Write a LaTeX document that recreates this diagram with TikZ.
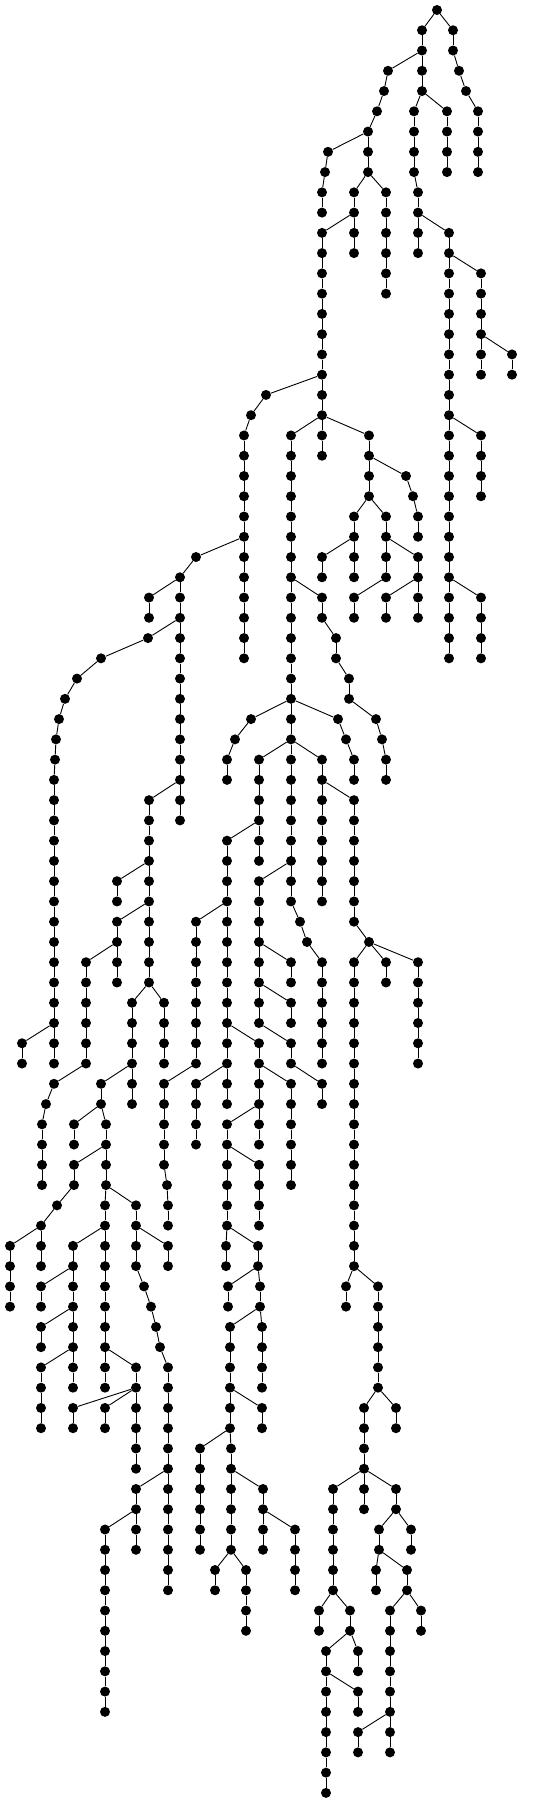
\documentclass[tikz,border=0pt]{standalone}
\usepackage{tikz}
\tikzset{
  dot/.style={circle, fill=black, draw=none, inner sep=0pt, minimum size=10pt},
  edge/.style={line width=0.9pt, black}
}
\newcommand\Nd[2]{\node[dot] (n#1-#2) at ({#2},{10+20.26*#1}) {};}
\newcommand\K[3]{\Nd{#1}{#2}\draw[edge] (n#3) -- (n#1-#2);}
\newcommand\V[4]{%
  \K{#2}{#1}{#4}%
  \pgfmathtruncatemacro\va{#2+1}%
  \ifnum\va>#3\relax\else
    \foreach \ii in {\va,...,#3}{%
      \pgfmathtruncatemacro\pp{\ii-1}%
      \K{\ii}{#1}{\pp-#1}%
    }%
  \fi}
\begin{document}
\begin{tikzpicture}[x=1pt,y=-1pt]
\useasboundingbox (0,0) rectangle (550,1804);
\Nd{0}{437}
\V{422}{1}{4}{0-437}
\V{453}{1}{2}{0-437}
\K{3}{459}{2-453}
\K{4}{466}{3-459}
\V{478}{5}{8}{4-466}
\K{3}{388}{2-422}
\K{4}{384}{3-388}
\K{5}{377}{4-384}
\V{368}{6}{8}{5-377}
\K{7}{328}{6-368}
\K{8}{325}{7-328}
\V{322}{9}{10}{8-325}
\V{414}{5}{8}{4-422}
\V{418}{9}{12}{8-414}
\V{447}{5}{8}{4-422}
\V{354}{9}{12}{8-368}
\V{386}{9}{14}{8-368}
\V{322}{11}{22}{10-354}
\V{449}{11}{32}{10-418}
\V{481}{13}{18}{12-449}
\V{512}{17}{18}{16-481}
\V{481}{21}{24}{20-449}
\V{481}{29}{32}{28-449}
\K{19}{266}{18-322}
\K{20}{251}{19-266}
\V{244}{21}{32}{20-251}
\V{291}{21}{44}{20-322}
\V{369}{21}{24}{20-322}
\K{23}{406}{22-369}
\K{24}{413}{23-406}
\V{418}{25}{26}{24-413}
\V{354}{25}{28}{24-369}
\V{386}{25}{28}{24-369}
\V{322}{27}{28}{26-354}
\V{418}{27}{30}{26-386}
\V{354}{29}{30}{28-386}
\V{386}{29}{30}{28-418}
\V{322}{29}{30}{28-291}
\V{336}{31}{32}{30-322}
\V{349}{33}{34}{32-336}
\K{35}{376}{34-349}
\K{36}{382}{35-376}
\V{386}{37}{38}{36-382}
\K{35}{338}{34-291}
\K{36}{346}{35-338}
\V{354}{37}{38}{36-346}
\K{27}{196}{26-244}
\V{180}{28}{40}{27-196}
\V{149}{29}{30}{28-180}
\K{31}{148}{30-180}
\K{32}{101}{31-148}
\K{33}{77}{32-101}
\K{34}{65}{33-77}
\K{35}{59}{34-65}
\K{36}{56}{35-59}
\K{37}{55}{36-56}
\V{54}{38}{52}{37-55}
\V{22}{51}{52}{50-54}
\K{35}{251}{34-291}
\K{36}{235}{35-251}
\V{227}{37}{38}{36-235}
\V{259}{37}{42}{36-291}
\V{322}{37}{44}{36-291}
\V{354}{39}{45}{38-322}
\V{149}{39}{48}{38-180}
\V{227}{41}{54}{40-259}
\V{117}{43}{44}{42-149}
\V{259}{43}{50}{42-291}
\V{117}{45}{48}{44-149}
\V{196}{45}{52}{44-227}
\K{45}{300}{44-291}
\K{46}{307}{45-300}
\V{322}{47}{52}{46-307}
\K{46}{369}{45-354}
\V{354}{47}{62}{46-369}
\V{386}{47}{48}{46-369}
\V{418}{47}{52}{46-369}
\V{86}{47}{52}{46-117}
\V{291}{47}{48}{46-259}
\V{132}{49}{54}{48-149}
\V{164}{49}{52}{48-149}
\V{291}{49}{50}{48-259}
\V{259}{51}{56}{50-227}
\V{291}{51}{52}{50-259}
\K{53}{54}{52-86}
\K{54}{46}{53-54}
\V{42}{55}{58}{54-46}
\V{101}{53}{54}{52-132}
\V{164}{53}{57}{52-196}
\K{58}{167}{57-164}
\V{168}{59}{60}{58-167}
\V{196}{53}{56}{52-227}
\V{291}{53}{58}{52-259}
\V{322}{53}{54}{52-291}
\V{74}{55}{56}{54-101}
\V{106}{55}{58}{54-101}
\V{227}{55}{60}{54-259}
\V{74}{57}{58}{56-106}
\V{259}{57}{60}{56-227}
\K{59}{57}{58-74}
\V{41}{60}{62}{59-57}
\V{10}{61}{64}{60-41}
\V{105}{59}{68}{58-106}
\V{136}{59}{62}{58-106}
\V{73}{61}{68}{60-105}
\V{168}{61}{62}{60-136}
\V{226}{61}{62}{60-227}
\V{258}{61}{62}{60-227}
\V{41}{63}{64}{62-73}
\K{63}{144}{62-136}
\K{64}{151}{63-144}
\K{65}{156}{64-151}
\K{66}{160}{65-156}
\V{168}{67}{78}{66-160}
\V{228}{63}{64}{62-258}
\V{260}{63}{64}{62-258}
\V{346}{63}{64}{62-354}
\V{378}{63}{68}{62-354}
\V{41}{65}{66}{64-73}
\V{230}{65}{70}{64-260}
\V{262}{65}{68}{64-260}
\V{41}{67}{70}{66-73}
\V{136}{67}{72}{66-105}
\V{73}{69}{70}{68-136}
\V{105}{69}{70}{68-136}
\V{262}{69}{70}{68-230}
\V{364}{69}{74}{68-378}
\V{396}{69}{70}{68-378}
\V{200}{71}{76}{70-230}
\V{231}{71}{76}{70-230}
\V{136}{73}{76}{72-168}
\V{263}{73}{76}{72-231}
\V{333}{73}{78}{72-364}
\V{396}{73}{74}{72-364}
\V{105}{75}{84}{74-136}
\V{295}{75}{78}{74-263}
\V{379}{75}{76}{74-396}
\V{411}{75}{76}{74-396}
\V{215}{77}{78}{76-231}
\V{246}{77}{80}{76-231}
\V{376}{77}{78}{76-379}
\V{407}{77}{78}{76-379}
\V{319}{79}{80}{78-333}
\V{350}{79}{80}{78-333}
\V{390}{79}{86}{78-407}
\V{421}{79}{80}{78-407}
\V{326}{81}{88}{80-350}
\V{358}{81}{82}{80-350}
\V{358}{83}{84}{82-326}
\V{358}{85}{86}{84-390}
\end{tikzpicture}
\end{document}
